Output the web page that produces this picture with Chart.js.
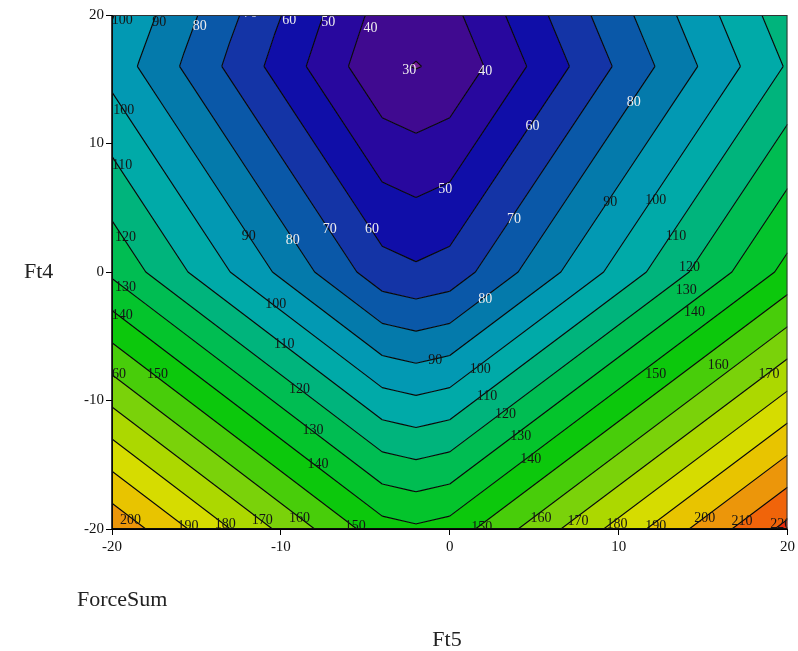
<!DOCTYPE html>
<html><head><meta charset="utf-8">
<script src="https://cdn.jsdelivr.net/npm/chart.js@4.4.1/dist/chart.umd.min.js"></script>
<style>html,body{margin:0;padding:0;background:#fff;}canvas{display:block;}</style>
</head><body>
<canvas id="c" width="798" height="651"></canvas>
<script>
// Grid nodes (Ft5 along x, Ft4 along y) and ForceSum values
const ft5Nodes = [-20, -4, -2, 0, 20];
const ft4Nodes = [-20, 0, 16, 20];
const forceSumGrid = [
  [208, 144, 141.6, 144, 223],   // Ft4 = -20
  [128, 64, 61.6, 64, 143],      // Ft4 = 0
  [96, 32, 29.6, 32, 111],       // Ft4 = 16
  [100.5, 36, 33.5, 37, 116]     // Ft4 = 20
];
const contourLevels = [30,40,50,60,70,80,90,100,110,120,130,140,150,160,170,180,190,200,210,220];
const bandColors = ['#731a94','#400a90','#28089e','#100ea8','#1434a6','#0a58a8','#047aab','#0299b3',
  '#00aaa8','#00b47c','#00bd52','#04c42c','#0cc80c','#48cd0a','#7ad20a','#acd800','#d6dc00',
  '#e8c400','#ec960a','#f0640a','#e82c0a'];
const xTickValues = [-20, -10, 0, 10, 20];
const yTickValues = [-20, -10, 0, 10, 20];
// contour labels: value, Ft5, Ft4
const labelValues = [100,90,80,70,60,50,40,110,30,40,80,60,100,110,50,90,100,70,90,80,70,60,120,110,120,130,80,100,140,130,140,110,90,160,150,100,150,160,170,120,110,120,130,130,140,140,200,190,180,170,160,150,150,160,170,180,190,200,210,220];
const labelFt5 = [-19.4,-17.2,-14.8,-11.8,-9.5,-7.2,-4.7,19.0,-2.4,2.1,10.9,4.9,-19.3,-19.4,-0.27,9.5,12.2,3.8,-11.9,-9.3,-7.1,-4.6,-19.2,13.4,14.2,-19.2,2.1,-10.3,-19.4,14.0,14.5,-9.8,-0.86,-19.8,-17.3,1.8,12.2,15.9,18.9,-8.9,2.2,3.3,-8.1,4.2,-7.8,4.8,-18.9,-15.5,-13.3,-11.1,-8.9,-5.6,1.9,5.4,7.6,9.9,12.2,15.1,17.3,19.6];
const labelFt4 = [19.6,19.4,19.1,20.1,19.6,19.4,19.0,20.3,15.7,15.6,13.2,11.3,12.6,8.3,6.4,5.4,5.6,4.1,2.8,2.5,3.3,3.3,2.7,2.8,0.4,-1.2,-2.1,-2.5,-3.4,-1.4,-3.1,-5.6,-6.9,-8.0,-8.0,-7.6,-8.0,-7.3,-8.0,-9.1,-9.7,-11.1,-12.3,-12.8,-15.0,-14.6,-19.3,-19.8,-19.6,-19.3,-19.2,-19.8,-19.9,-19.2,-19.4,-19.6,-19.8,-19.2,-19.4,-19.6];

function buildTriangles() {
  const tris = [];
  for (let j = 0; j < ft4Nodes.length - 1; j++) {
    for (let i = 0; i < ft5Nodes.length - 1; i++) {
      const p = (ii, jj) => ({x: ft5Nodes[ii], y: ft4Nodes[jj], z: forceSumGrid[jj][ii]});
      const a = p(i, j), b = p(i + 1, j), c = p(i + 1, j + 1), d = p(i, j + 1);
      if (Math.abs(a.z - c.z) <= Math.abs(b.z - d.z)) { tris.push([a, b, c], [a, c, d]); }
      else { tris.push([a, b, d], [b, c, d]); }
    }
  }
  return tris;
}
function clipPoly(poly, level, keepAbove) {
  const out = [];
  for (let k = 0; k < poly.length; k++) {
    const P = poly[k], Q = poly[(k + 1) % poly.length];
    const pin = keepAbove ? P.z >= level : P.z <= level;
    const qin = keepAbove ? Q.z >= level : Q.z <= level;
    if (pin) out.push(P);
    if (pin !== qin) {
      const t = (level - P.z) / (Q.z - P.z);
      out.push({x: P.x + t * (Q.x - P.x), y: P.y + t * (Q.y - P.y), z: level});
    }
  }
  return out;
}

const contourPlugin = {
  id: 'contour',
  beforeDatasetsDraw(chart) {
    const ctx = chart.ctx, xs = chart.scales.x, ys = chart.scales.y, area = chart.chartArea;
    const px = v => xs.getPixelForValue(v), py = v => ys.getPixelForValue(v);
    const tris = buildTriangles();
    ctx.save();
    ctx.beginPath(); ctx.rect(area.left, area.top, area.right - area.left, area.bottom - area.top); ctx.clip();
    // filled bands: one path per band so neighbouring pieces have no seams
    for (let b = 0; b < bandColors.length; b++) {
      const lo = b === 0 ? -Infinity : contourLevels[b - 1];
      const hi = b === contourLevels.length ? Infinity : contourLevels[b];
      ctx.fillStyle = bandColors[b];
      ctx.beginPath();
      let any = false;
      for (const t of tris) {
        let poly = t;
        if (lo > -Infinity) poly = clipPoly(poly, lo, true);
        if (poly.length >= 3 && hi < Infinity) poly = clipPoly(poly, hi, false);
        if (poly.length < 3) continue;
        any = true;
        poly.forEach((q, k) => k ? ctx.lineTo(px(q.x), py(q.y)) : ctx.moveTo(px(q.x), py(q.y)));
        ctx.closePath();
      }
      if (any) ctx.fill('nonzero');
    }
    // contour lines
    ctx.strokeStyle = '#080808'; ctx.lineWidth = 1.15;
    ctx.beginPath();
    for (const L of contourLevels) {
      for (const t of tris) {
        const pts = [];
        for (let k = 0; k < 3; k++) {
          const P = t[k], Q = t[(k + 1) % 3];
          if ((P.z >= L) !== (Q.z >= L)) {
            const s = (L - P.z) / (Q.z - P.z);
            pts.push([P.x + s * (Q.x - P.x), P.y + s * (Q.y - P.y)]);
          }
        }
        if (pts.length === 2) {
          ctx.moveTo(px(pts[0][0]), py(pts[0][1])); ctx.lineTo(px(pts[1][0]), py(pts[1][1]));
        }
      }
    }
    ctx.stroke();
    // contour labels
    ctx.font = '14px "Liberation Serif"'; ctx.textAlign = 'center'; ctx.textBaseline = 'middle';
    for (let i = 0; i < labelValues.length; i++) {
      ctx.fillStyle = labelValues[i] <= 80 ? '#eeeeee' : '#151515';
      ctx.fillText(String(labelValues[i]), px(labelFt5[i]), py(labelFt4[i]));
    }
    ctx.restore();
    // frame
    ctx.save();
    ctx.strokeStyle = '#333'; ctx.lineWidth = 1;
    ctx.strokeRect(area.left + 0.5, area.top + 0.5, area.right - area.left - 1, area.bottom - area.top - 1);
    ctx.strokeStyle = '#000'; ctx.lineWidth = 1.5;
    ctx.beginPath(); ctx.moveTo(area.left, area.top); ctx.lineTo(area.left, area.bottom); ctx.lineTo(area.right, area.bottom); ctx.stroke();
    ctx.restore();
  },
  afterDraw(chart) {
    const ctx = chart.ctx;
    ctx.save();
    ctx.fillStyle = '#222'; ctx.textBaseline = 'middle';
    ctx.font = '22px "Liberation Serif"';
    ctx.textAlign = 'left';
    ctx.fillText('Ft4', 24, 272);
    ctx.fillText('ForceSum', 77, 600);
    ctx.textAlign = 'center';
    ctx.fillText('Ft5', 447, 640);
    ctx.restore();
  }
};

const gridPoints = [];
ft4Nodes.forEach((y, j) => ft5Nodes.forEach((x, i) => gridPoints.push({x, y, v: forceSumGrid[j][i]})));

const tickFont = {family: 'Liberation Serif', size: 15};
new Chart(document.getElementById('c').getContext('2d'), {
  type: 'scatter',
  data: {datasets: [{label: 'ForceSum', data: gridPoints, pointRadius: 0, pointHoverRadius: 0}]},
  options: {
    responsive: false, animation: false, devicePixelRatio: 1,
    layout: {padding: {left: 0, right: 10, top: 15, bottom: 0}},
    plugins: {legend: {display: false}, tooltip: {enabled: false}},
    events: [],
    scales: {
      x: {
        type: 'linear', min: -20, max: 20,
        afterBuildTicks: s => { s.ticks = xTickValues.map(v => ({value: v})); },
        grid: {display: true, drawOnChartArea: false, drawTicks: true, tickLength: 6, color: '#000'},
        border: {display: true, color: '#000', width: 1},
        ticks: {font: tickFont, color: '#111', padding: 3, maxRotation: 0, autoSkip: false},
        afterFit: s => { s.height = 651 - 529; }
      },
      y: {
        type: 'linear', min: -20, max: 20,
        afterBuildTicks: s => { s.ticks = yTickValues.map(v => ({value: v})); },
        grid: {display: true, drawOnChartArea: false, drawTicks: true, tickLength: 6, color: '#000'},
        border: {display: true, color: '#000', width: 1},
        ticks: {font: tickFont, color: '#111', padding: 2, autoSkip: false},
        afterFit: s => { s.width = 112; }
      }
    }
  },
  plugins: [contourPlugin]
});
</script>
</body></html>
